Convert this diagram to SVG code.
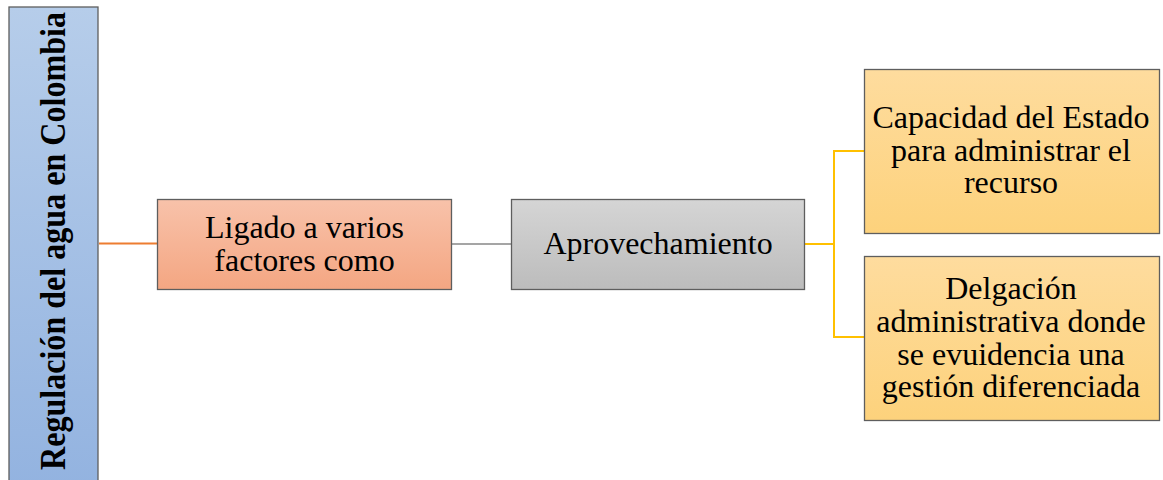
<svg xmlns="http://www.w3.org/2000/svg" width="1163" height="480" viewBox="0 0 1163 480">
<defs>
<linearGradient id="gBlue" x1="0" y1="0" x2="0" y2="1"><stop offset="0" stop-color="#b6cdea"/><stop offset="1" stop-color="#93b3e0"/></linearGradient>
<linearGradient id="gOrange" x1="0" y1="0" x2="0" y2="1"><stop offset="0" stop-color="#f8c2aa"/><stop offset="1" stop-color="#f4a682"/></linearGradient>
<linearGradient id="gGrey" x1="0" y1="0" x2="0" y2="1"><stop offset="0" stop-color="#d5d5d5"/><stop offset="1" stop-color="#bcbcbc"/></linearGradient>
<linearGradient id="gGold" x1="0" y1="0" x2="0" y2="1"><stop offset="0" stop-color="#fedc9e"/><stop offset="1" stop-color="#fdd27c"/></linearGradient>
</defs>
<style>
.box{stroke:#5e5e5e;stroke-width:1.3}
.c{fill:none;stroke-width:2}
</style>
<rect width="1163" height="480" fill="#ffffff"/>
<g id="connectors">
<line class="c" x1="99" y1="243.5" x2="158" y2="243.5" stroke="#ed7d31"/>
<line class="c" x1="452" y1="244" x2="511" y2="244" stroke="#a5a5a5"/>
<polyline class="c" points="805,244 834,244" stroke="#ffc000"/>
<polyline class="c" points="864,151 834,151 834,337 864,337" stroke="#ffc000"/>
</g>
<g id="root">
<rect class="box" x="9" y="7" width="89" height="480" fill="url(#gBlue)"/>
<text font-family="Liberation Serif, Times New Roman, serif" font-size="35" font-weight="bold" fill="#000" text-anchor="middle" textLength="458" lengthAdjust="spacingAndGlyphs" transform="translate(65,241) rotate(-90)">Regulación del agua en Colombia</text>
</g>
<g font-family="Liberation Serif, Times New Roman, serif" font-size="32" fill="#000" text-anchor="middle">
<g id="ligado">
<rect class="box" x="157.5" y="199.5" width="294" height="90" fill="url(#gOrange)"/>
<text x="304.5" y="238">Ligado a varios</text>
<text x="304.5" y="271">factores como</text>
</g>
<g id="aprovechamiento">
<rect class="box" x="511.5" y="199.5" width="293" height="90" fill="url(#gGrey)"/>
<text x="658" y="254">Aprovechamiento</text>
</g>
<g id="capacidad">
<rect class="box" x="864.5" y="69.5" width="295" height="164" fill="url(#gGold)"/>
<text x="1011" y="128">Capacidad del Estado</text>
<text x="1011" y="161">para administrar el</text>
<text x="1011" y="193">recurso</text>
</g>
<g id="delegacion">
<rect class="box" x="864.5" y="256.5" width="295" height="164" fill="url(#gGold)"/>
<text x="1011" y="299">Delgación</text>
<text x="1011" y="332">administrativa donde</text>
<text x="1011" y="365">se evuidencia una</text>
<text x="1011" y="397">gestión diferenciada</text>
</g>
</g>
</svg>
